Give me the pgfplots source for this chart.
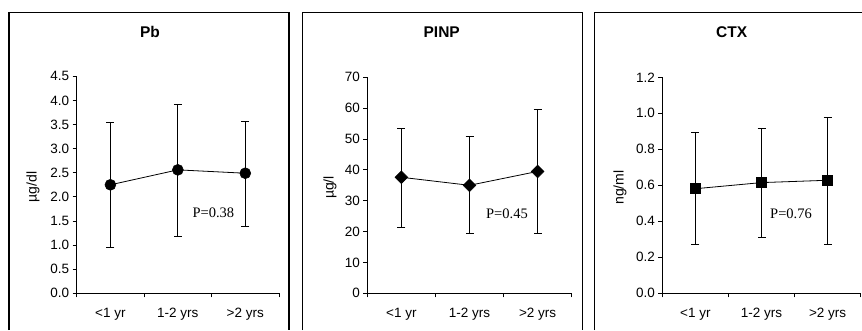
\documentclass[border=0pt]{standalone}
\usepackage{fontspec}
\setmainfont{Liberation Sans}
\newfontfamily\timesfont{Liberation Serif}
\usepackage{pgfplots}
\pgfplotsset{compat=1.18}
\pgfplotsset{
  panel/.style={
    scale only axis,
    axis lines*=left,
    xmin=0.5, xmax=3.5,
    ymin=0,
    xtick={0.5,1.5,2.5,3.5},
    xticklabels={},
    extra x ticks={1,2,3},
    extra x tick labels={{<1 yr},{1-2 yrs},{>2 yrs}},
    extra x tick style={major tick length=0pt},
    xticklabel style={yshift=-11pt},
    tick align=outside,
    major tick length=4pt,
    tick style={black, line width=0.8pt},
    axis line style={black, line width=0.8pt},
    ticklabel style={font=\fontsize{13.5}{15}\selectfont},
    /pgf/number format/assume math mode=true,
    ylabel style={font=\fontsize{14}{16}\selectfont, anchor=center},
    clip=false,
  },
  ser/.style={black, line width=0.8pt,
    error bars/.cd, y dir=both, y explicit,
    error mark=|,
    error bar style={line width=0.8pt, black},
    error mark options={mark size=4pt, line width=0.8pt, black}},
}
\begin{document}
\begin{tikzpicture}
\path[use as bounding box] (0,0) rectangle (862pt,330pt);
% frames
\draw[line width=1.2pt] (9pt,0) -- (9pt,317.3pt) -- (289pt,317.3pt) -- (289pt,0);
\draw[line width=1.2pt] (302.7pt,0) -- (302.7pt,317.3pt) -- (582.7pt,317.3pt) -- (582.7pt,0);
\draw[line width=1.2pt] (594.7pt,0) -- (594.7pt,317.3pt) -- (862pt,317.3pt);
% titles
\node[anchor=base, font=\bfseries\fontsize{15.5}{17}\selectfont] at (150pt,292.5pt) {Pb};
\node[anchor=base, font=\bfseries\fontsize{15.5}{17}\selectfont] at (441.7pt,292.5pt) {PINP};
\node[anchor=base, font=\bfseries\fontsize{15.5}{17}\selectfont] at (731.7pt,292.5pt) {CTX};

% Pb
\begin{axis}[panel, at={(76.7pt,36.7pt)}, anchor=south west,
  width=202.3pt, height=217pt, ymax=4.5,
  ytick={0,0.5,...,4.5},
  yticklabel style={/pgf/number format/.cd, fixed, fixed zerofill, precision=1},
  ylabel={µg/dl}, ylabel style={at={(axis description cs:-0.216,0.49)}}]
\addplot+[mark=*, mark size=5.5pt, mark options={fill=black, solid, line width=0.5pt}, ser] coordinates {
  (1,2.25) += (0,1.30) -= (0,1.30)
  (2,2.56) += (0,1.36) -= (0,1.38)
  (3,2.49) += (0,1.08) -= (0,1.10)
};
\node[font=\timesfont\fontsize{14.5}{16}\selectfont] at (axis cs:2.526,1.66) {P=0.38};
\end{axis}

% PINP
\begin{axis}[panel, at={(367.3pt,36.7pt)}, anchor=south west,
  width=204.4pt, height=216pt, ymax=70,
  ytick={0,10,...,70},
  ylabel={µg/l}, ylabel style={at={(axis description cs:-0.182,0.49)}}]
\addplot+[mark=square*, mark size=4.5pt, mark options={fill=black, solid, line width=0.5pt, rotate=45}, ser] coordinates {
  (1,37.6) += (0,16.0) -= (0,16.2)
  (2,35.0) += (0,15.9) -= (0,15.6)
  (3,39.5) += (0,20.2) -= (0,20.1)
};
\node[font=\timesfont\fontsize{14.5}{16}\selectfont] at (axis cs:2.55,25.9) {P=0.45};
\end{axis}

% CTX
\begin{axis}[panel, at={(662.3pt,36.7pt)}, anchor=south west,
  width=198.4pt, height=216pt, ymax=1.2,
  ytick={0,0.2,0.4,0.6,0.8,1.0,1.2},
  yticklabel style={/pgf/number format/.cd, fixed, fixed zerofill, precision=1},
  ylabel={ng/ml}, ylabel style={at={(axis description cs:-0.213,0.49)}}]
\addplot+[mark=square*, mark size=5pt, mark options={fill=black, solid, line width=0.5pt}, ser] coordinates {
  (1,0.581) += (0,0.313) -= (0,0.311)
  (2,0.615) += (0,0.302) -= (0,0.306)
  (3,0.628) += (0,0.348) -= (0,0.356)
};
\node[font=\timesfont\fontsize{14.5}{16}\selectfont] at (axis cs:2.446,0.444) {P=0.76};
\end{axis}
\end{tikzpicture}
\end{document}
